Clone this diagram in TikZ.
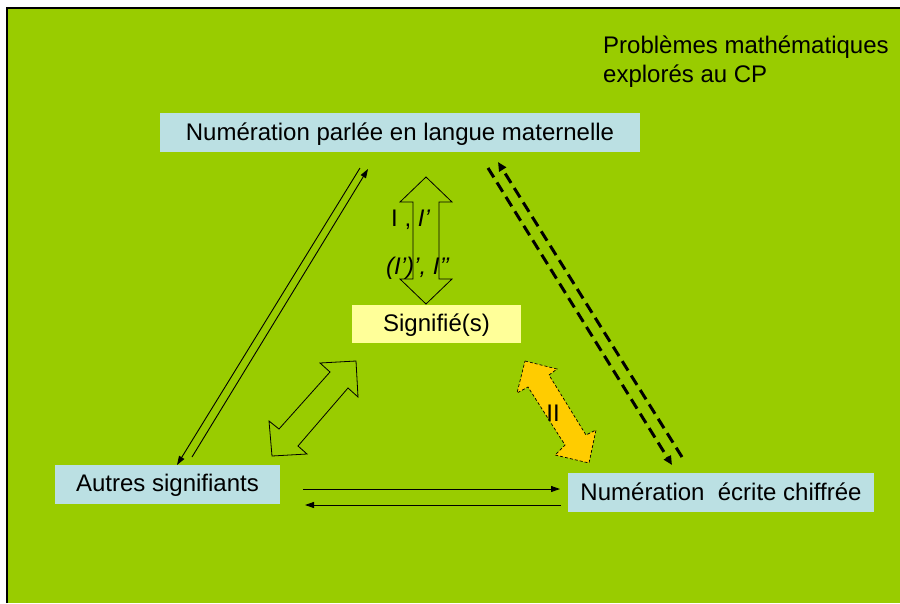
\documentclass[tikz,border=0pt]{standalone}
\usepackage{fontspec}
\setmainfont{Liberation Sans}
\usetikzlibrary{arrows.meta}
\definecolor{bg}{HTML}{99CC00}
\definecolor{boxblue}{HTML}{BBE0E3}
\definecolor{boxyellow}{HTML}{FFFF99}
\definecolor{orangefill}{HTML}{FFCC00}
\tikzset{
  txt/.style={font=\fontsize{24}{29}\selectfont, inner sep=0pt},
  bluebox/.style={txt, fill=boxblue, minimum height=39pt, text height=16pt, text depth=1pt},
  yellowbox/.style={txt, fill=boxyellow, minimum height=38pt, text height=16pt, text depth=1pt},
  thinarrow/.style={line width=0.9pt, -{Triangle[length=9pt,width=6pt]}},
  dasharrow/.style={line width=3pt, dash pattern=on 11pt off 6pt, -{Triangle[length=9pt,width=8pt]}},
  blockarrow/.style={draw=black, line width=0.8pt, fill=bg, line join=miter},
  orangearrow/.style={draw=black, line width=0.7pt, dash pattern=on 3pt off 2pt, fill=orangefill},
}
\begin{document}
\begin{tikzpicture}[x=1pt, y=-1pt]
\useasboundingbox (0,0) rectangle (900,603);
\fill[bg] (7,8) rectangle (900,603);
\draw[line width=1.2pt] (7,603) -- (7,8) -- (900,8);

% title
\node[txt, anchor=north west, align=left] (title) at (603,36)
  {Problèmes mathématiques\\explorés au CP};

% boxes
\node[bluebox, minimum width=480pt] (top) at (400,132.5) {Numération parlée en langue maternelle};
\node[yellowbox, minimum width=169pt] (sig) at (436.5,324) {Signifié(s)};
\node[bluebox, minimum width=225pt] (autres) at (167.5,484) {Autres signifiants};
\node[bluebox, minimum width=306pt] (ecrite) at (721,492.5) {Numération\ \ écrite chiffrée};

% long left double line
\coordinate (la1) at (360,168);
\coordinate (la2) at (177,465);
\coordinate (lb1) at (192,457);
\coordinate (lb2) at (368,169);
\draw[thinarrow] (la1) -- (la2);
\draw[thinarrow] (lb1) -- (lb2);

% dashed right double line
\coordinate (ra1) at (488,168);
\coordinate (ra2) at (672,465);
\coordinate (rb1) at (682,457);
\coordinate (rb2) at (498,162);
\draw[dasharrow] (ra1) -- (ra2);
\draw[dasharrow] (rb1) -- (rb2);

% bottom horizontal arrows
\coordinate (h1) at (303,489);
\coordinate (h2) at (560,489);
\coordinate (h3) at (561,505);
\coordinate (h4) at (305,505);
\draw[thinarrow] (h1) -- (h2);
\draw[thinarrow] (h3) -- (h4);

% vertical block double arrow
\draw[blockarrow] (426,177) -- (452,202) -- (439,202) -- (439,279) -- (452,279) -- (426,304)
  -- (400,279) -- (413,279) -- (413,202) -- (400,202) -- cycle;

% diagonal block double arrow (left)
\draw[blockarrow] (356,361) -- (358,397) -- (348,388) -- (298,446) -- (307,454) -- (272,456)
  -- (269,421) -- (279,429) -- (330,372) -- (320,363) -- cycle;

% orange double arrow
\draw[orangearrow] (525,361) -- (557,369) -- (549,375) -- (586,435) -- (596,430) -- (589,463)
  -- (555,455) -- (565,445) -- (528,387) -- (517,393) -- cycle;

% labels
\node[txt, anchor=west] (l1) at (391,220) {I , \textit{I’}};
\node[txt, anchor=west] (l2) at (386,268) {\textit{(I’)’, I’’}};
\node[txt] (l3) at (553,413) {II};
\end{tikzpicture}
\end{document}
